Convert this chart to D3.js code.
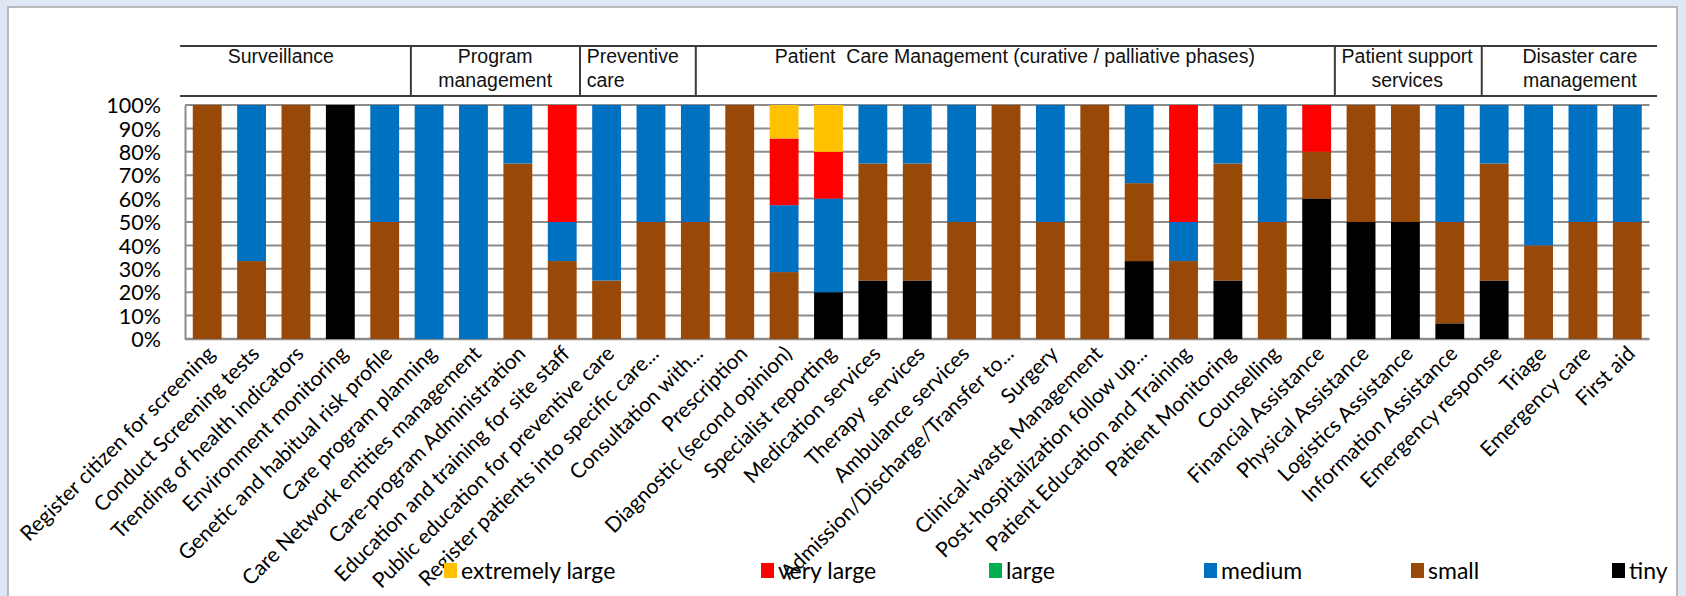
<!DOCTYPE html>
<html>
<head>
<meta charset="utf-8">
<script src="https://cdn.jsdelivr.net/npm/d3@7"></script>
<style>
	body { margin: 0; background: #dee8f4; }
	svg text { white-space: pre; }
	.ticklabel, .catlabel, .legendlabel { font-family: Lato, "Open Sans", sans-serif; fill: #000; }
	.grouplabel { font-family: "Liberation Sans", Arial, sans-serif; font-size: 19.5px; fill: #111; }
</style>
</head>
<body>
<svg id="graph"></svg>
<script>
var categories = ["Register citizen for screening", "Conduct Screening tests", "Trending of health indicators",
	"Environment monitoring", "Genetic and habitual risk profile", "Care program planning",
	"Care Network entities management", "Care-program Administration", "Education and training for site staff",
	"Public education for preventive care", "Register patients into specific care...", "Consultation with...",
	"Prescription", "Diagnostic (second opinion)", "Specialist reporting", "Medication services",
	"Therapy  services", "Ambulance services", "Admission/Discharge/Transfer to...", "Surgery",
	"Clinical-waste Management", "Post-hospitalization follow up...", "Patient Education and Training",
	"Patient Monitoring", "Counselling", "Financial Assistance", "Physical Assistance", "Logistics Assistance",
	"Information Assistance", "Emergency response", "Triage", "Emergency care", "First aid"];

// percent of answers per category, stacked bottom to top: tiny, small, medium, large, very large, extremely large
var tiny =           [0, 0, 0, 100, 0, 0, 0, 0, 0, 0, 0, 0, 0, 0, 20, 25, 25, 0, 0, 0, 0, 33.3, 0, 25, 0, 60, 50, 50, 6.7, 25, 0, 0, 0];
var small =          [100, 33.3, 100, 0, 50, 0, 0, 75, 33.3, 25, 50, 50, 100, 28.6, 0, 50, 50, 50, 100, 50, 100, 33.3, 33.3, 50, 50, 20, 50, 50, 43.3, 50, 40, 50, 50];
var medium =         [0, 66.7, 0, 0, 50, 100, 100, 25, 16.7, 75, 50, 50, 0, 28.6, 40, 25, 25, 50, 0, 50, 0, 33.4, 16.7, 25, 50, 0, 0, 0, 50, 25, 60, 50, 50];
var large =          [0, 0, 0, 0, 0, 0, 0, 0, 0, 0, 0, 0, 0, 0, 0, 0, 0, 0, 0, 0, 0, 0, 0, 0, 0, 0, 0, 0, 0, 0, 0, 0, 0];
var veryLarge =      [0, 0, 0, 0, 0, 0, 0, 0, 50, 0, 0, 0, 0, 28.5, 20, 0, 0, 0, 0, 0, 0, 0, 50, 0, 0, 20, 0, 0, 0, 0, 0, 0, 0];
var extremelyLarge = [0, 0, 0, 0, 0, 0, 0, 0, 0, 0, 0, 0, 0, 14.3, 20, 0, 0, 0, 0, 0, 0, 0, 0, 0, 0, 0, 0, 0, 0, 0, 0, 0, 0];

var seriesKeys = ["tiny", "small", "medium", "large", "very large", "extremely large"];
var seriesColors = ["#000000", "#984807", "#0070c0", "#00b050", "#ff0000", "#ffc000"];
var legendOrder = ["extremely large", "very large", "large", "medium", "small", "tiny"];

var yTicks = [0, 10, 20, 30, 40, 50, 60, 70, 80, 90, 100];

// header table: cell edges and label positions in category units
var groupLines = [["Surveillance"], ["Program", "management"], ["Preventive", "care"],
	["Patient  Care Management (curative / palliative phases)"], ["Patient support", "services"], ["Disaster care", "management"]];
var groupEdges = [-0.11, 5.09, 8.9, 11.51, 25.91, 29.22, 33.17];
var groupLabelAt = [2.16, 6.99, 9.05, 18.7, 27.54, 31.43];
var groupAnchor = ["middle", "middle", "start", "middle", "middle", "middle"];

var W = 1686, H = 596;
var svg = d3.select("#graph").attr("width", W).attr("height", H);

// white panel
svg.append("rect").attr("x", 8).attr("y", 7).attr("width", 1669).attr("height", H)
	.attr("fill", "#fff").attr("stroke", "#a6a6a6").attr("stroke-width", 1.5);

var plot = {left: 185, right: 1649.5, top: 105, bottom: 339};

var x = d3.scaleBand().domain(categories).range([plot.left, plot.right]).paddingInner(0.35).paddingOuter(0.175),
	u = d3.scaleLinear().domain([0, categories.length]).range([plot.left, plot.right]),
	y = d3.scaleLinear().domain([0, 100]).range([plot.bottom, plot.top]),
	color = d3.scaleOrdinal().domain(seriesKeys).range(seriesColors);

var rows = categories.map(function(c, i) {
	return {cat: c, "tiny": tiny[i], "small": small[i], "medium": medium[i], "large": large[i],
		"very large": veryLarge[i], "extremely large": extremelyLarge[i]};
});

//gridlines
svg.append("g").selectAll("line").data(yTicks).enter().append("line")
	.attr("x1", plot.left).attr("x2", plot.right)
	.attr("y1", function(d) { return y(d); }).attr("y2", function(d) { return y(d); })
	.attr("stroke", "#8c8c8c").attr("stroke-width", function(d) { return d == 0 ? 2.5 : 2; });

//bars
var stack = d3.stack().keys(seriesKeys)(rows);
svg.append("g").selectAll("g").data(stack).enter().append("g")
	.attr("fill", function(d) { return color(d.key); })
	.selectAll("rect").data(function(d) { return d; }).enter().append("rect")
		.attr("x", function(d) { return x(d.data.cat); })
		.attr("width", x.bandwidth())
		.attr("y", function(d) { return y(d[1]); })
		.attr("height", function(d) { return y(d[0]) - y(d[1]); });

//y axis
var yAxis = d3.axisLeft(y).tickValues(yTicks).tickFormat(function(d) { return d + "%"; })
	.tickSize(0).tickPadding(24);
var ya = svg.append("g").attr("transform", "translate(" + plot.left + ",0)").call(yAxis);
ya.select(".domain").attr("stroke", "#8c8c8c").attr("stroke-width", 2);
ya.selectAll("text").attr("class", "ticklabel").attr("font-size", "21.5px").attr("dy", "0.36em");

//x labels
svg.append("g").selectAll("text").data(categories).enter().append("text")
	.attr("class", "catlabel")
	.attr("font-size", "21px")
	.attr("text-anchor", "end")
	.attr("transform", function(d) { return "translate(" + (x(d) + x.bandwidth() / 2 + 9) + "," + (plot.bottom + 16) + ") rotate(-45)"; })
	.text(function(d) { return d; });

//header table
var head = svg.append("g").attr("stroke", "#3a3a3a").attr("stroke-width", 2);
head.append("line").attr("x1", u(groupEdges[0])).attr("x2", u(groupEdges[groupEdges.length - 1])).attr("y1", 46).attr("y2", 46);
head.append("line").attr("x1", u(groupEdges[0])).attr("x2", u(groupEdges[groupEdges.length - 1])).attr("y1", 96).attr("y2", 96);
head.selectAll("line.div").data(groupEdges.slice(1, -1)).enter().append("line")
	.attr("class", "div")
	.attr("x1", function(d) { return u(d); }).attr("x2", function(d) { return u(d); })
	.attr("y1", 46).attr("y2", 96);

var gl = svg.append("g").selectAll("text").data(groupLines).enter().append("text")
	.attr("class", "grouplabel")
	.attr("text-anchor", function(d, i) { return groupAnchor[i]; })
	.attr("x", function(d, i) { return u(groupLabelAt[i]); })
	.attr("y", 63);
gl.selectAll("tspan").data(function(d) { return d; }).enter().append("tspan")
	.attr("x", function() { return this.parentNode.getAttribute("x"); })
	.attr("dy", function(d, i) { return i == 0 ? 0 : 24; })
	.text(function(d) { return d; });

//legend
var legendX = [444, 761, 989, 1204, 1411, 1612];
var lg = svg.append("g").selectAll("g").data(legendOrder).enter().append("g")
	.attr("transform", function(d, i) { return "translate(" + legendX[i] + ",563)"; });
lg.append("rect").attr("width", 13).attr("height", 15).attr("fill", function(d) { return color(d); });
lg.append("text").attr("class", "legendlabel").attr("font-size", "23px")
	.attr("x", 17).attr("y", 16).text(function(d) { return d; });
</script>
</body>
</html>
